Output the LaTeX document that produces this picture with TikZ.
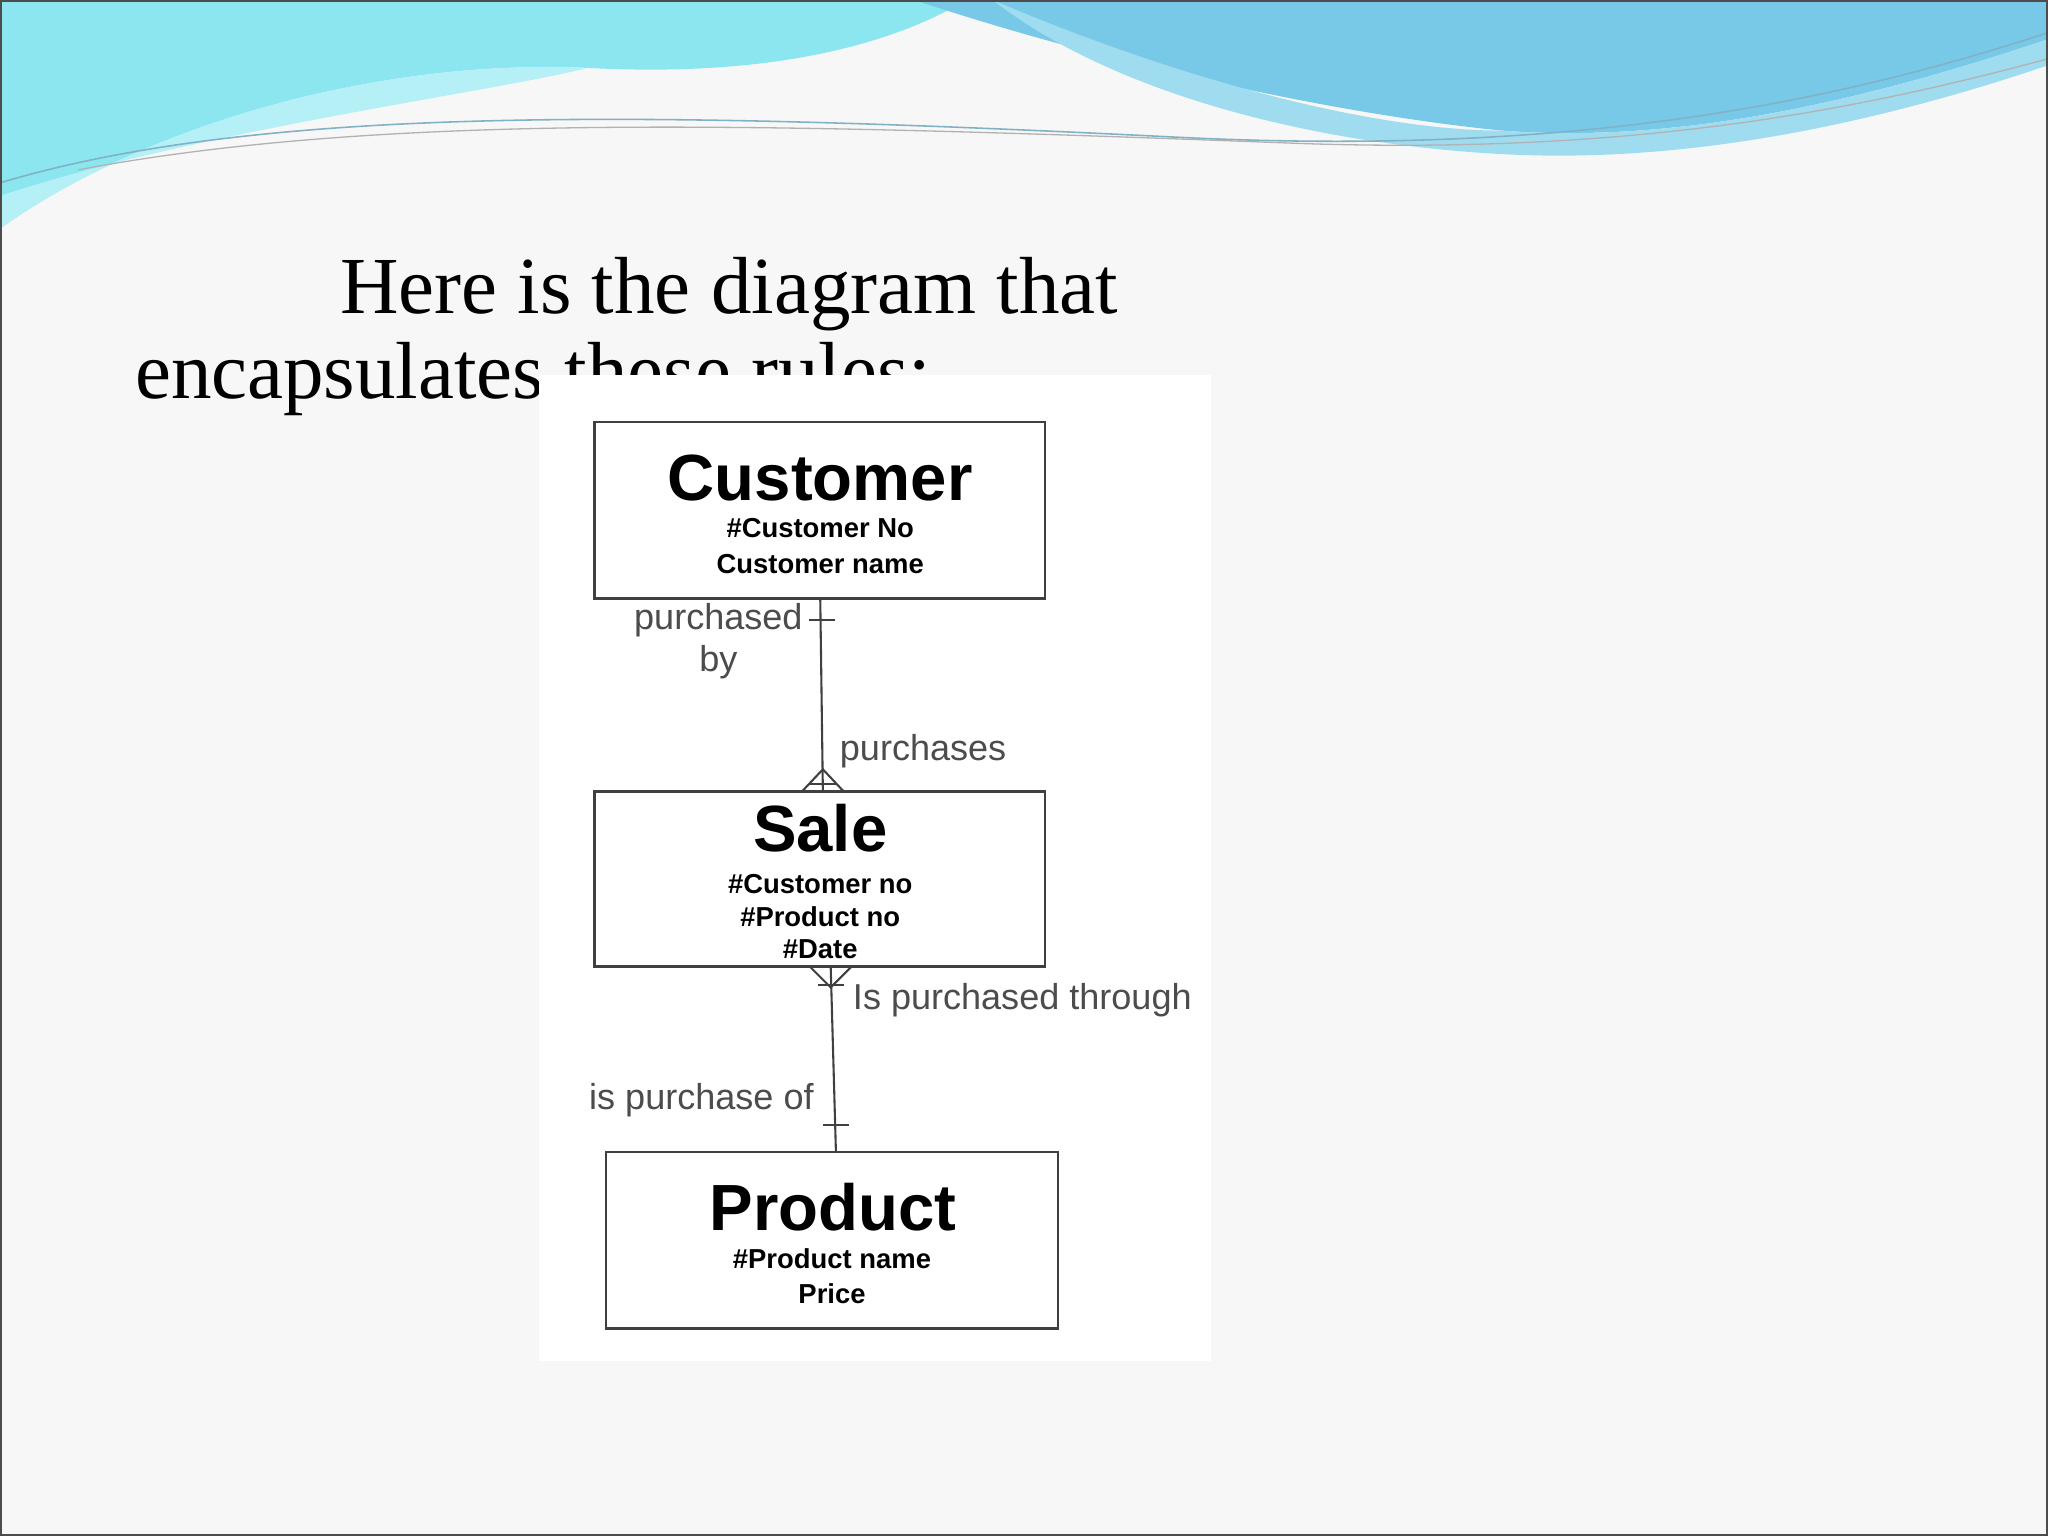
\documentclass[tikz,border=0pt]{standalone}
\usepackage{fontspec}
\setmainfont{Liberation Serif}
\setsansfont{Liberation Sans}
\definecolor{wcyan}{HTML}{8CE6F0}
\definecolor{wcyan2}{HTML}{B5F0F6}
\definecolor{wblue}{HTML}{78C8E8}
\definecolor{wblue2}{HTML}{9FDCF0}
\begin{document}
\begin{tikzpicture}[x=0.5pt,y=-0.5pt,
  ent/.style={draw=black!75,line width=1pt,fill=white},
  lbl/.style={font=\sffamily\fontsize{13.8}{16}\selectfont,text=black!70},
  rel/.style={draw=black!75,line width=0.8pt}]
\useasboundingbox (0,0) rectangle (1568,1176);
\fill[black!3] (0,0) rectangle (1568,1176);
% top waves
\fill[wcyan] (0,0) -- (740,0) .. controls (690,30) and (600,60) .. (450,52)
  .. controls (300,45) and (120,90) .. (0,175) -- cycle;
\fill[wcyan2] (0,175) .. controls (120,90) and (300,45) .. (450,52) .. controls (380,70) and (150,100) .. (0,150) -- cycle;
\fill[wblue] (700,0) -- (1568,0) -- (1568,30) .. controls (1420,80) and (1280,110) .. (1150,100)
  .. controls (1000,85) and (820,40) .. (700,0) -- cycle;
\fill[wblue2] (760,0) .. controls (900,60) and (1050,100) .. (1150,100) .. controls (1280,110) and (1420,80) .. (1568,30)
  -- (1568,50) .. controls (1420,100) and (1280,125) .. (1150,118) .. controls (1000,110) and (850,70) .. (760,0);
\draw[cyan!60!black!60,line width=0.6pt] (0,140) .. controls (200,80) and (500,85) .. (900,105) .. controls (1200,120) and (1400,80) .. (1568,25);
\draw[black!30,line width=0.5pt] (60,130) .. controls (300,85) and (600,95) .. (1000,110) .. controls (1250,118) and (1420,85) .. (1568,45);
\draw[black!70,line width=0.8pt] (0.5,0.5) rectangle (1567.5,1175.5);
% title
\node[anchor=base west,inner sep=0pt,font=\fontsize{31}{36}\selectfont] (t1) at (260,240) {Here is the diagram that};
\node[anchor=base west,inner sep=0pt,font=\fontsize{31}{36}\selectfont] (t2) at (103,305) {encapsulates these rules:};
\fill[white] (413,287) rectangle (927,1042);
% entities
\draw[ent] (455,323) rectangle (800,458);
\node[font=\sffamily\bfseries\fontsize{25}{28}\selectfont] (cust) at (628,366) {Customer};
\node[font=\sffamily\bfseries\fontsize{10.5}{13.5}\selectfont,align=center] (custa) at (628,418) {\#Customer No\\Customer name};
\draw[ent] (455,606) rectangle (800,740);
\node[font=\sffamily\bfseries\fontsize{25}{28}\selectfont] (sale) at (628,634) {Sale};
\node[font=\sffamily\bfseries\fontsize{10.5}{12.5}\selectfont,align=center] (salea) at (628,702) {\#Customer no\\\#Product no\\\#Date};
\draw[ent] (464,882) rectangle (810,1017);
\node[font=\sffamily\bfseries\fontsize{25}{28}\selectfont] (prod) at (638,924) {Product};
\node[font=\sffamily\bfseries\fontsize{10.5}{13.5}\selectfont,align=center] (proda) at (637,977) {\#Product name\\Price};
% connectors
\coordinate (c1) at (628,458); \coordinate (c2) at (630,606);
\draw[rel] (c1) -- (c2);
\draw[rel] (619,475) -- (639,475);
\draw[rel] (614,606) -- (630,589) -- (646,606);
\draw[rel] (620,600) -- (640,600);
\coordinate (d1) at (636,740); \coordinate (d2) at (640,882);
\draw[rel] (d1) -- (d2);
\draw[rel] (620,740) -- (636,756) -- (652,740);
\draw[rel] (626,754) -- (646,754);
\draw[rel] (630,861) -- (650,861);
% labels
\node[lbl,align=center] (l1) at (550,491) {purchased\\by};
\node[lbl,anchor=west] (l2) at (636,575) {purchases};
\node[lbl,anchor=west] (l3) at (646,766) {Is purchased through};
\node[lbl,anchor=east] (l4) at (630,842) {is purchase of};
\end{tikzpicture}
\end{document}
